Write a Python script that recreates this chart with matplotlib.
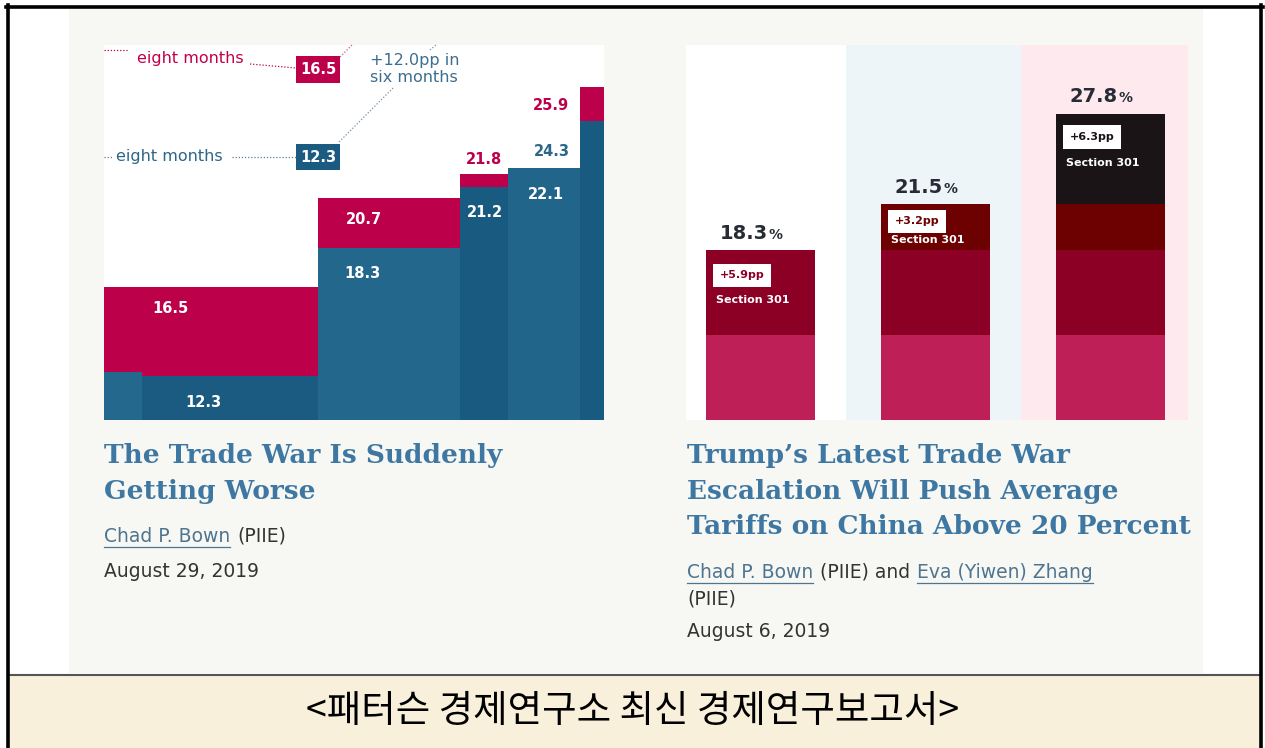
import numpy as np
import matplotlib.pyplot as plt
from matplotlib.patches import Rectangle
from matplotlib.lines import Line2D
from matplotlib.transforms import Affine2D

W, H = 1265, 748

# left chart: stepped average tariff (base = blue, total = red)
step_edges = [0, 1.6, 8.9, 14.8, 16.8, 19.8, 20.8]
base_rate = [12.45, 12.3, 18.3, 21.2, 22.1, 24.3]
total_rate = [16.5, 16.5, 20.7, 21.8, 22.1, 25.9]

# right chart: average tariffs on China, stacked
scenarios = ['Before', 'Sep 2019', 'Dec 2019']
pre_301 = [12.4, 12.4, 12.4]
sec301_first = [5.9, 5.9, 5.9]
sec301_second = [0.0, 3.2, 3.2]
sec301_third = [0.0, 0.0, 6.3]
avg_totals = [18.3, 21.5, 27.8]
increments = [5.9, 3.2, 6.3]

RED = '#BC0049'
BLUE_TXT = '#2D6689'
TITLE = '#3E78A2'

fig = plt.figure(figsize=(W / 100, H / 100), dpi=100)
fig.patch.set_facecolor('white')
px = Affine2D().scale(1 / W, -1 / H).translate(0, 1) + fig.transFigure


def box(x0, y0, x1, y1):
    return [x0 / W, 1 - y1 / H, (x1 - x0) / W, (y1 - y0) / H]


def rect(x0, y0, x1, y1, color, z=-1):
    fig.add_artist(Rectangle((x0, y0), x1 - x0, y1 - y0, transform=px,
                             fc=color, ec='none', zorder=z))


def line(xs, ys, color, lw=1.0, ls='-', z=3):
    fig.add_artist(Line2D(xs, ys, transform=px, color=color, lw=lw, ls=ls, zorder=z))


# page background
rect(69, 9, 1203, 673, '#F7F7F3')
rect(9, 676, 1262, 748, '#F8F0DA')
line([9, 1260], [675, 675], '#555555', lw=1.5)
line([7.5, 7.5], [5, 748], 'black', lw=2.6)
line([6, 1263], [7, 7], 'black', lw=2.6)
line([1261, 1261], [5, 748], 'black', lw=2.6)


def clean(ax):
    ax.set_xticks([])
    ax.set_yticks([])
    for s in ax.spines.values():
        s.set_visible(False)


# ---- left chart
axL = fig.add_axes(box(104, 45, 604, 420))
clean(axL)
axL.set_facecolor('white')
widths = np.diff(step_edges)
blues = ['#24688E', '#1B5A81', '#23678D', '#195A80', '#21658B', '#195A80']
axL.bar(step_edges[:-1], base_rate, width=widths, align='edge', color=blues, lw=0)
axL.bar(step_edges[:-1], np.array(total_rate) - np.array(base_rate), bottom=base_rate,
        width=widths, align='edge', color=RED, lw=0)
axL.set_xlim(step_edges[0], step_edges[-1])
axL.set_ylim(10.2, 27.9)

# (segment, series, dx px, dy px, colour)
left_labels = [(0, 'total', 66, -22, 'white'), (1, 'base', 61, -27, 'white'),
               (2, 'total', 46, -22, 'white'), (2, 'base', 44, -25, 'white'),
               (3, 'base', 25, -26, 'white'), (3, 'total', 24, 15, RED),
               (4, 'base', 38, -27, 'white'), (5, 'base', -28, -30, BLUE_TXT),
               (5, 'total', -29, -18, RED)]
for seg, ser, dx, dy, c in left_labels:
    v = total_rate[seg] if ser == 'total' else base_rate[seg]
    axL.annotate(f'{v:.1f}', (step_edges[seg], v), xytext=(dx * 0.72, dy * 0.72),
                 textcoords='offset points', ha='center', va='center',
                 fontsize=10.5, fontweight='bold', color=c)

# callouts above the steps
note = dict(transform=px, fontsize=11.5, va='center', ha='left')
fig.text(137, 58, 'eight months', color='#C2004B', **note)
fig.text(116, 157, 'eight months', color=BLUE_TXT, **note)
fig.text(370, 60, '+12.0pp in', color='#3C6E8F', **note)
fig.text(370, 77, 'six months', color='#3C6E8F', **note)
rect(296, 56, 340, 83, RED, z=2)
rect(296, 144, 340, 170, '#1B5A81', z=2)
fig.text(318, 70, f'{total_rate[0]:.1f}', transform=px, color='white', fontsize=10.5,
         fontweight='bold', ha='center', va='center')
fig.text(318, 157, f'{base_rate[1]:.1f}', transform=px, color='white', fontsize=10.5,
         fontweight='bold', ha='center', va='center')
dot = (0, (1, 1.5))
line([104, 128], [50, 50], '#C2004B', lw=0.9, ls=dot)
line([250, 296], [64, 68], '#C2004B', lw=0.9, ls=dot)
line([340, 352], [57, 45], '#C06080', lw=0.9, ls=dot)
line([430, 436], [50, 45], '#7A8FA0', lw=0.9, ls=dot)
line([393, 338], [88, 143], '#7A8FA0', lw=0.9, ls=dot)
line([104, 112], [157, 157], '#5A7F99', lw=0.9, ls=dot)
line([232, 296], [157, 157], '#5A7F99', lw=0.9, ls=dot)

# ---- right chart
axR = fig.add_axes(box(686, 45, 1188, 420))
clean(axR)
axR.set_facecolor('white')
axR.set_xlim(-0.426, 2.443)
axR.set_ylim(6.5, 32.6)
axR.axvspan(0.489, 1.491, color='#EEF5F9', lw=0)
axR.axvspan(1.491, 2.443, color='#FDE9EE', lw=0)
x = np.arange(len(scenarios))
bw = 0.623
bottom = np.zeros(len(scenarios))
layers = [(pre_301, '#BD1F56'), (sec301_first, '#8C0026'),
          (sec301_second, '#6D0000'), (sec301_third, '#1B1416')]
for vals, c in layers:
    axR.bar(x, vals, bw, bottom=bottom, color=c, lw=0)
    bottom += np.array(vals)

top_colors = ['#8C0026', '#6D0000', '#1B1416']
inner_offsets = [(25, 50), (17, 36), (23, 49)]
for i, t in enumerate(avg_totals):
    axR.annotate(f'{t:.1f}', (i, t), xytext=(5.4, 8.5), textcoords='offset points',
                 ha='right', va='baseline', fontsize=14, fontweight='bold', color='#262B35')
    axR.annotate('%', (i, t), xytext=(5.8, 8.5), textcoords='offset points',
                 ha='left', va='baseline', fontsize=10, fontweight='bold', color='#262B35')
    b_dy, s_dy = inner_offsets[i]
    axR.annotate(f'+{increments[i]:.1f}pp', (i - bw / 2, t), xytext=(14 * 0.72, -b_dy * 0.72),
                 textcoords='offset points', ha='left', va='center', fontsize=8,
                 fontweight='bold', color=top_colors[i],
                 bbox=dict(boxstyle='square,pad=0.6', fc='white', ec='none'))
    axR.annotate('Section 301', (i - bw / 2, t), xytext=(10 * 0.72, -s_dy * 0.72),
                 textcoords='offset points', ha='left', va='center', fontsize=8,
                 fontweight='bold', color='white')

# ---- article text
serif = dict(transform=px, va='baseline', ha='left', fontfamily='DejaVu Serif',
             fontweight='bold', fontsize=19, color=TITLE)
fig.text(104, 463, 'The Trade War Is Suddenly', **serif)
fig.text(104, 499, 'Getting Worse', **serif)
fig.text(687, 463, 'Trump\u2019s Latest Trade War', **serif)
fig.text(687, 499, 'Escalation Will Push Average', **serif)
fig.text(687, 534, 'Tariffs on China Above 20 Percent', **serif)

renderer = fig.canvas.get_renderer()


def run(x, y, parts, size=13.5):
    for s, c, ul in parts:
        t = fig.text(x, y, s, transform=px, color=c, fontsize=size, va='baseline', ha='left')
        w = t.get_window_extent(renderer=renderer).width
        if ul:
            line([x, x + w], [y + 5, y + 5], c, lw=0.9)
        x += w + 7


LINK = '#4E7590'
DARK = '#333333'
run(104, 542, [('Chad P. Bown', LINK, True), ('(PIIE)', DARK, False)])
run(104, 577, [('August 29, 2019', DARK, False)])
run(687, 578, [('Chad P. Bown', LINK, True), ('(PIIE) and', DARK, False),
               ('Eva (Yiwen) Zhang', LINK, True)])
run(687, 605, [('(PIIE)', DARK, False)])
run(687, 637, [('August 6, 2019', DARK, False)])

fig.text(633, 712, '<패터슨 경제연구소 최신 경제연구보고서>', transform=px, ha='center',
         va='center', fontsize=27, fontfamily=['Noto Sans CJK KR', 'DejaVu Sans'],
         color='black')

fig.savefig('out.png', dpi=100)
